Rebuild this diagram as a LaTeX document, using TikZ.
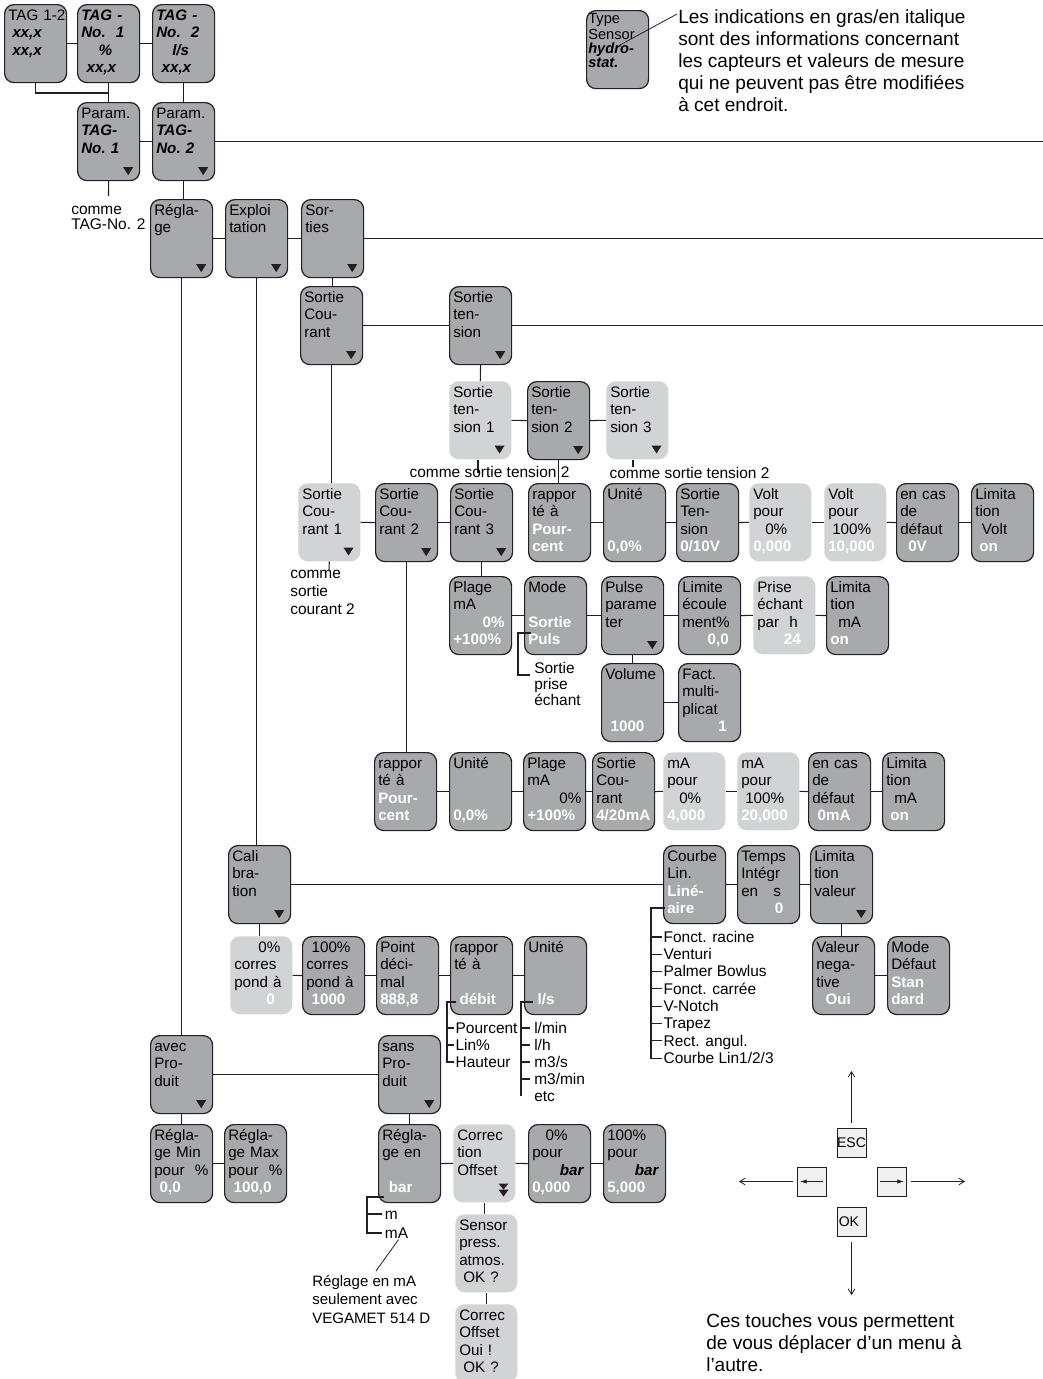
\documentclass[tikz,border=0pt]{standalone}
\usepackage{fontspec}
\setmainfont{Liberation Sans}
\usetikzlibrary{calc,arrows.meta}
\definecolor{boxdark}{RGB}{167,169,172}
\definecolor{boxlight}{RGB}{210,211,213}
\definecolor{ink}{RGB}{35,31,32}
\definecolor{keyfill}{RGB}{240,240,241}
\newcommand\wt[1]{{\color{white}\bfseries #1}}
\newcommand\bit[1]{{\bfseries\itshape #1}}
\newcommand\rt{\mbox{}\hskip 0pt plus 1fill\relax}
\newcommand\pad[1]{\rule{#1}{0pt}}
\newcommand\bx[5]{%
 \node[#2, anchor=north west] (#1) at (#3,#4) {};
 \node[txt, anchor=north west] (#1t) at ($(#1.north west)+(4,4)$) {#5};}
\newcommand\dnarr[1]{\fill[ink] ($(#1.south east)+(-17,-14)$) -- ++(10,0) -- ++(-5,8) -- cycle;}
\begin{document}
\begin{tikzpicture}[x=0.75pt,y=-0.75pt,
 dk/.style={draw=ink, line width=0.9pt, fill=boxdark, rounded corners=7pt, minimum width=46.5pt, minimum height=58.5pt, inner sep=0pt},
 lt/.style={fill=boxlight, rounded corners=7pt, minimum width=46.5pt, minimum height=58.5pt, inner sep=0pt},
 txt/.style={align=left, text width=43.5pt, inner sep=0pt, font=\fontsize{11.4}{13.1}\selectfont, execute at begin node=\strut},
 txtS/.style={align=left, text width=44pt, inner sep=0pt, font=\fontsize{11}{10.5}\selectfont, execute at begin node=\strut},
 lbl/.style={inner xsep=1pt, inner ysep=0pt, text height=8pt, text depth=0pt, font=\fontsize{11.6}{13.1}\selectfont, anchor=west},
 note/.style={align=left, inner sep=0pt, anchor=north west, execute at begin node=\strut},
 ln/.style={draw=ink, line width=0.8pt},
 ka/.style={draw=ink, line width=0.6pt, -{Straight Barb[length=4pt,width=5pt]}},
 key/.style={draw=ink, line width=0.7pt, fill=keyfill, minimum width=21.75pt, minimum height=21.75pt, inner sep=0pt, font=\fontsize{10.5}{12}\selectfont}]
\useasboundingbox (0,0) rectangle (1043,1379);

% ---------- boxes ----------
\bx{tagA}{dk}{4}{4}{TAG 1-2\\\hspace*{3pt}\bit{xx,x}\\\hspace*{3pt}\bit{xx,x}}
\bx{tagB}{dk}{77}{4}{\bit{TAG -}\\\bit{No.\ \ 1}\\\hspace*{13pt}\bit{\%}\\\hspace*{4pt}\bit{xx,x}}
\bx{tagC}{dk}{152}{4}{\bit{TAG -}\\\bit{No.\ \ 2}\\\hspace*{12pt}\bit{l/s}\\\hspace*{4pt}\bit{xx,x}}
\bx{parA}{dk}{77}{102}{Param.\\\bit{TAG-}\\\bit{No.\ 1}}\dnarr{parA}
\bx{parB}{dk}{152}{102}{Param.\\\bit{TAG-}\\\bit{No.\ 2}}\dnarr{parB}
\bx{regl}{dk}{150}{199}{Régla-\\ge}\dnarr{regl}
\bx{expl}{dk}{225}{199}{Exploi\\tation}\dnarr{expl}
\bx{sort}{dk}{301}{199}{Sor-\\ties}\dnarr{sort}
\bx{scou}{dk}{300}{286}{Sortie\\Cou-\\rant}\dnarr{scou}
\bx{sten}{dk}{449}{286}{Sortie\\ten-\\sion}\dnarr{sten}
\bx{st1}{lt}{449}{381}{Sortie\\ten-\\sion 1}\dnarr{st1}
\bx{st2}{dk}{527}{381}{Sortie\\ten-\\sion 2}\dnarr{st2}
\bx{st3}{lt}{606}{381}{Sortie\\ten-\\sion 3}\dnarr{st3}
% row 5
\bx{sc1}{lt}{298}{483}{Sortie\\Cou-\\rant 1}\dnarr{sc1}
\bx{sc2}{dk}{375}{483}{Sortie\\Cou-\\rant 2}\dnarr{sc2}
\bx{sc3}{dk}{450}{483}{Sortie\\Cou-\\rant 3}\dnarr{sc3}
\bx{rpA}{dk}{528}{483}{rappor\\té à\\\wt{Pour-}\\\wt{cent}}
\bx{unA}{dk}{603}{483}{Unité\\\mbox{}\\\mbox{}\\\wt{0,0\%}}
\bx{stT}{dk}{676}{483}{Sortie\\Ten-\\sion\\\wt{0/10V}}
\bx{vo0}{lt}{749}{483}{Volt\\pour\\\hspace*{9pt}0\%\\\wt{0,000}}
\bx{vo1}{lt}{824}{483}{Volt\\pour\\\hspace*{3pt}100\%\\\wt{10,000}}
\bx{defA}{dk}{896}{483}{en cas\\de\\défaut\\\hspace*{6pt}\wt{0V}}
\bx{limV}{dk}{971}{483}{Limita\\tion\\\hspace*{5pt}Volt\\\hspace*{3pt}\wt{on}}
% row 6
\bx{plg}{dk}{449}{576}{Plage\\mA\\\rt\wt{0\%}\pad{5pt}\\\wt{+100\%}}
\bx{mode}{dk}{524}{576}{Mode\\\mbox{}\\\wt{Sortie}\\\wt{Puls}}
\bx{puls}{dk}{601}{576}{Pulse\\parame\\ter}\dnarr{puls}
\bx{limE}{dk}{678}{576}{Limite\\écoule\\ment\%\\\hspace*{19pt}\wt{0,0}}
\bx{pris}{lt}{753}{576}{Prise\\échant\\par\ \ h\\\hspace*{20pt}\wt{24}}
\bx{limM}{dk}{826}{576}{Limita\\tion\\\hspace*{6pt}mA\\\wt{on}}
\bx{volu}{dk}{601}{663}{Volume\\\mbox{}\\\mbox{}\\\hspace*{4pt}\wt{1000}}
\bx{fact}{dk}{678}{663}{Fact.\\multi-\\plicat\\\rt\wt{1}\pad{10pt}}
% row 8
\bx{rpB}{dk}{374}{752}{rappor\\té à\\\wt{Pour-}\\\wt{cent}}
\bx{unB}{dk}{449}{752}{Unité\\\mbox{}\\\mbox{}\\\wt{0,0\%}}
\bx{plB}{dk}{523}{752}{Plage\\mA\\\rt 0\%\pad{3pt}\\\wt{+100\%}}
\bx{scB}{dk}{592}{752}{Sortie\\Cou-\\rant\\\wt{4/20mA}}
\bx{ma0}{lt}{663}{752}{mA\\pour\\\hspace*{9pt}0\%\\\wt{4,000}}
\bx{ma1}{lt}{737}{752}{mA\\pour\\\hspace*{3pt}100\%\\\wt{20,000}}
\bx{defB}{dk}{808}{752}{en cas\\de\\défaut\\\hspace*{4pt}\wt{0mA}}
\bx{limB}{dk}{882}{752}{Limita\\tion\\\hspace*{6pt}mA\\\hspace*{3pt}\wt{on}}
% calibration
\bx{cal}{dk}{228}{845}{Cali\\bra-\\tion}\dnarr{cal}
\bx{z0}{lt}{230}{936}{\rt 0\%\pad{9pt}\\corres\\pond à\\\rt\wt{0}\pad{13pt}}
\bx{c100}{dk}{302}{936}{\hspace*{4pt}100\%\\corres\\pond à\\\hspace*{4pt}\wt{1000}}
\bx{pdec}{dk}{376}{936}{Point\\déci-\\mal\\\wt{888,8}}
\bx{rpC}{dk}{450}{936}{rappor\\té à\\\mbox{}\\\hspace*{4pt}\wt{débit}}
\bx{unC}{dk}{524}{936}{Unité\\\mbox{}\\\mbox{}\\\hspace*{7pt}\wt{l/s}}
\bx{crb}{dk}{663}{845}{Courbe\\Lin.\\\wt{Liné-}\\\wt{aire}}
\bx{tps}{dk}{737}{845}{Temps\\Intégr\\en\ \ \ s\\\rt\wt{0}\pad{12pt}}
\bx{lval}{dk}{810}{845}{Limita\\tion\\valeur}\dnarr{lval}
\bx{vneg}{dk}{812}{936}{Valeur\\nega-\\tive\\\hspace*{7pt}\wt{Oui}}
\bx{mdef}{dk}{887}{936}{Mode\\Défaut\\\wt{Stan}\\\wt{dard}}
% produit
\bx{avec}{dk}{150}{1035}{avec\\Pro-\\duit}\dnarr{avec}
\bx{sans}{dk}{378}{1035}{sans\\Pro-\\duit}\dnarr{sans}
\bx{rmin}{dk}{150}{1124}{Régla-\\ge Min\\pour\ \ \%\\\hspace*{4pt}\wt{0,0}}
\bx{rmax}{dk}{224}{1124}{Régla-\\ge Max\\pour\ \ \%\\\hspace*{4pt}\wt{100,0}}
\bx{rgen}{dk}{378}{1124}{Régla-\\ge en\\\mbox{}\\\hspace*{5pt}\wt{bar}}
\bx{corr}{lt}{453}{1124}{Correc\\tion\\Offset}
\fill[ink] ($(corr.south east)+(-17,-19)$) -- ++(10,0) -- ++(-5,6) -- cycle;
\fill[ink] ($(corr.south east)+(-17,-13)$) -- ++(10,0) -- ++(-5,7) -- cycle;
\bx{pz}{dk}{528}{1124}{\hspace*{10pt}0\%\\pour\\\rt\bit{bar}\pad{5pt}\\\wt{0,000}}
\bx{pc}{dk}{603}{1124}{100\%\\pour\\\rt\bit{bar}\pad{5pt}\\\wt{5,000}}
\bx{sens}{lt}{455}{1214}{Sensor\\press.\\atmos.\\\hspace*{3pt}OK ?}
\bx{cofs}{lt}{455}{1304}{Correc\\Offset\\Oui !\\\hspace*{3pt}OK ?}
% legend box
\node[dk, anchor=north west] (leg) at (586,10) {};
\node[txtS, anchor=north west] (legt) at (588,13) {Type\\Sensor\\\bit{hydro-}\\\bit{stat.}};

% ---------- connectors ----------
\coordinate (eR) at (1043,0);
\draw[ln] (tagA.east) -- (tagB.west);
\draw[ln] (tagB.east) -- (tagC.west);
\coordinate (jA) at (108.5,93);
\draw[ln] (tagA.south) |- (jA);
\draw[ln] (tagB.south) -- (parA.north);
\draw[ln] (tagC.south) -- (parB.north);
\draw[ln] (parA.east) -- (parB.west);
\draw[ln] (parB.east) -- (parB.east -| eR);
\coordinate (cmT) at (108.5,196);
\draw[ln] (parA.south) -- (cmT);
\draw[ln] (parB.south) -- (parB.south |- regl.north);
\draw[ln] (regl.east) -- (expl.west);
\draw[ln] (expl.east) -- (sort.west);
\draw[ln] (sort.east) -- (sort.east -| eR);
\draw[ln] (sort.south) -- (sort.south |- scou.north);
\draw[ln] (scou.east) -- (sten.west);
\draw[ln] (sten.east) -- (sten.east -| eR);
\draw[ln] (scou.south) -- (scou.south |- sc1.north);
\draw[ln] (sten.south) -- (st1.north);
\draw[ln] (st1.east) -- (st2.west);
\draw[ln] (st2.east) -- (st3.west);
\coordinate (tk1) at (478,473);
\draw[ln] (st1.south -| tk1) -- (tk1);
\draw[ln] (st2.south) -- (st2.south |- rpA.north);
\coordinate (tk3) at (633,467);
\draw[ln] (st3.south -| tk3) -- (tk3);
\coordinate (tk4) at (329,570);
\draw[ln] (sc1.south) -- (tk4);
\draw[ln] (sc1.east) -- (sc2.west);
\draw[ln] (sc2.east) -- (sc3.west);
\draw[ln] (sc2.south) -- (sc2.south |- rpB.north);
\draw[ln] (sc3.south) -- (sc3.south |- plg.north);
\draw[ln] (rpA.east) -- (unA.west);
\draw[ln] (unA.east) -- (stT.west);
\draw[ln] (stT.east) -- (vo0.west);
\draw[ln] (vo0.east) -- (vo1.west);
\draw[ln] (vo1.east) -- (defA.west);
\draw[ln] (defA.east) -- (limV.west);
\draw[ln] (plg.east) -- (mode.west);
\draw[ln] (mode.east) -- (puls.west);
\draw[ln] (puls.east) -- (limE.west);
\draw[ln] (limE.east) -- (pris.west);
\draw[ln] (pris.east) -- (limM.west);
\draw[ln] (puls.south) -- (volu.north);
\draw[ln] (volu.east) -- (fact.west);
\coordinate (b1) at (518,633);
\coordinate (b3) at (530,675);
\draw[ln] ($(mode.west |- b1)+(7,0)$) -- (b1) |- (b3);
\draw[ln] (rpB.east) -- (unB.west);
\draw[ln] (unB.east) -- (plB.west);
\draw[ln] (plB.east) -- (scB.west);
\draw[ln] (scB.east) -- (ma0.west);
\draw[ln] (ma0.east) -- (ma1.west);
\draw[ln] (ma1.east) -- (defB.west);
\draw[ln] (defB.east) -- (limB.west);
\draw[ln] (expl.south) -- (expl.south |- cal.north);
\draw[ln] (cal.east) -- (crb.west);
\draw[ln] (cal.south) -- (cal.south |- z0.north);
\draw[ln] (z0.east) -- (c100.west);
\draw[ln] (c100.east) -- (pdec.west);
\draw[ln] (pdec.east) -- (rpC.west);
\draw[ln] (rpC.east) -- (unC.west);
\draw[ln] (crb.east) -- (tps.west);
\draw[ln] (tps.east) -- (lval.west);
\draw[ln] (lval.south) -- (lval.south |- vneg.north);
\draw[ln] (vneg.east) -- (mdef.west);
\draw[ln] (regl.south) -- (regl.south |- avec.north);
\draw[ln] (avec.east) -- (sans.west);
\draw[ln] (avec.south) -- (rmin.north);
\draw[ln] (rmin.east) -- (rmax.west);
\draw[ln] (sans.south) -- (rgen.north);
\draw[ln] (rgen.east) -- (corr.west);
\draw[ln] (corr.east) -- (pz.west);
\draw[ln] (pz.east) -- (pc.west);
\draw[ln] (corr.south) -- (corr.south |- sens.north);
\draw[ln] (sens.south) -- (cofs.north);

% ---------- labels ----------
\node[note, font=\fontsize{11.6}{11.25}\selectfont] (cmA) at (71,206) {comme\\TAG-No. 2};
\node[lbl] (cmB) at (408,472) {comme sortie tension 2};
\node[lbl] (cmC) at (608,473) {comme sortie tension 2};
\node[note, font=\fontsize{11.6}{13.5}\selectfont] (cmD) at (290,569.5) {comme\\sortie\\courant\ 2};
\node[note, font=\fontsize{11.6}{12}\selectfont] (spT) at (534,662) {Sortie\\prise\\échant};

% Courbe list
\node[lbl] (c1) at (662,937) {Fonct. racine};
\node[lbl] (c2) at (662,954.3) {Venturi};
\node[lbl] (c3) at (662,971.6) {Palmer Bowlus};
\node[lbl] (c4) at (662,988.9) {Fonct. carrée};
\node[lbl] (c5) at (662,1006.2) {V-Notch};
\node[lbl] (c6) at (662,1023.5) {Trapez};
\node[lbl] (c7) at (662,1040.8) {Rect. angul.};
\node[lbl] (c8) at (662,1058.1) {Courbe Lin1/2/3};
\coordinate (cl) at (651,908);
\draw[ln] ($(crb.west |- cl)+(2,0)$) -- (cl) |- (c8.west);
\foreach \i in {1,...,7} {\draw[ln] (cl |- c\i.west) -- (c\i.west);}

% rapporte list
\node[lbl] (r1) at (454,1028) {Pourcent};
\node[lbl] (r2) at (454,1045) {Lin\%};
\node[lbl] (r3) at (454,1062) {Hauteur};
\coordinate (rl) at (447,1002);
\draw[ln] ($(rpC.west |- rl)+(6,0)$) -- (rl) |- (r3.west);
\draw[ln] (rl |- r1.west) -- (r1.west);
\draw[ln] (rl |- r2.west) -- (r2.west);

% unite list
\node[lbl, inner xsep=3pt] (u1) at (530,1028) {l/min};
\node[lbl, inner xsep=3pt] (u2) at (530,1045) {l/h};
\node[lbl, inner xsep=3pt] (u3) at (530,1062) {m3/s};
\node[lbl, inner xsep=3pt] (u4) at (530,1079) {m3/min};
\node[lbl, inner xsep=3pt] (u5) at (530,1096) {etc};
\coordinate (ul) at (521,1002);
\draw[ln] ($(unC.west |- ul)+(9,0)$) -- (ul) -- (ul |- u5.west);
\foreach \i in {1,...,4} {\draw[ln] (ul |- u\i.west) -- (u\i.west);}

% reglage en list
\node[lbl, inner xsep=2pt] (g1) at (382,1214) {m};
\node[lbl, inner xsep=2pt] (g2) at (382,1233) {mA};
\coordinate (gl) at (367,1197);
\draw[ln] ($(rgen.west |- gl)+(6,0)$) -- (gl) |- (g2.west);
\draw[ln] (gl |- g1.west) -- (g1.west);
\node[note, font=\fontsize{11.3}{13.9}\selectfont] (vega) at (312,1275) {Réglage en mA\\seulement avec\\VEGAMET 514 D};
\coordinate (dg) at (376,1271);
\draw[ln, line width=0.6pt] ($(g2.south)+(2,1)$) -- (dg);

% legend text
\node[note, font=\fontsize{14.3}{16.5}\selectfont] (legtxt) at (678,9.6) {Les indications en gras/en italique\\sont des informations concernant\\les capteurs et valeurs de mesure\\qui ne peuvent pas être modifiées\\à cet endroit.};
\coordinate (legS) at (620,45);
\coordinate (legE) at (677,14);
\draw[ink, line width=0.6pt] (legS) -- (legE);

% ---------- key ----------
\node[key] (esc) at (851.5,1143) {ESC};
\node[key] (kl) at (812,1181.5) {};
\node[key] (kr) at (892,1181.5) {};
\node[key, text width=19pt, align=left] (ok) at (851.5,1222) {OK};
\coordinate (kU) at (851.5,1071);
\coordinate (kL) at (739,1181.5);
\coordinate (kR) at (965,1181.5);
\coordinate (kD) at (851.5,1295);
\draw[ka, shorten <=4pt] (esc.north) -- (kU);
\draw[ka, shorten <=3pt] (kl.west) -- (kL);
\draw[ka, shorten <=3pt] (kr.east) -- (kR);
\draw[ka, shorten <=4pt] (ok.south) -- (kD);
\draw[ink, line width=0.6pt, -{Latex[length=5pt,width=3.2pt]}] ($(kl.east)+(-4,0)$) -- ($(kl.west)+(3,0)$);
\draw[ink, line width=0.6pt, -{Latex[length=5pt,width=3.2pt]}] ($(kr.west)+(3,0)$) -- ($(kr.east)+(-3,0)$);
\node[note, font=\fontsize{14.3}{16.5}\selectfont] (keytxt) at (706,1313) {Ces touches vous permettent\\de vous déplacer d’un menu à\\l’autre.};
\end{tikzpicture}
\end{document}
